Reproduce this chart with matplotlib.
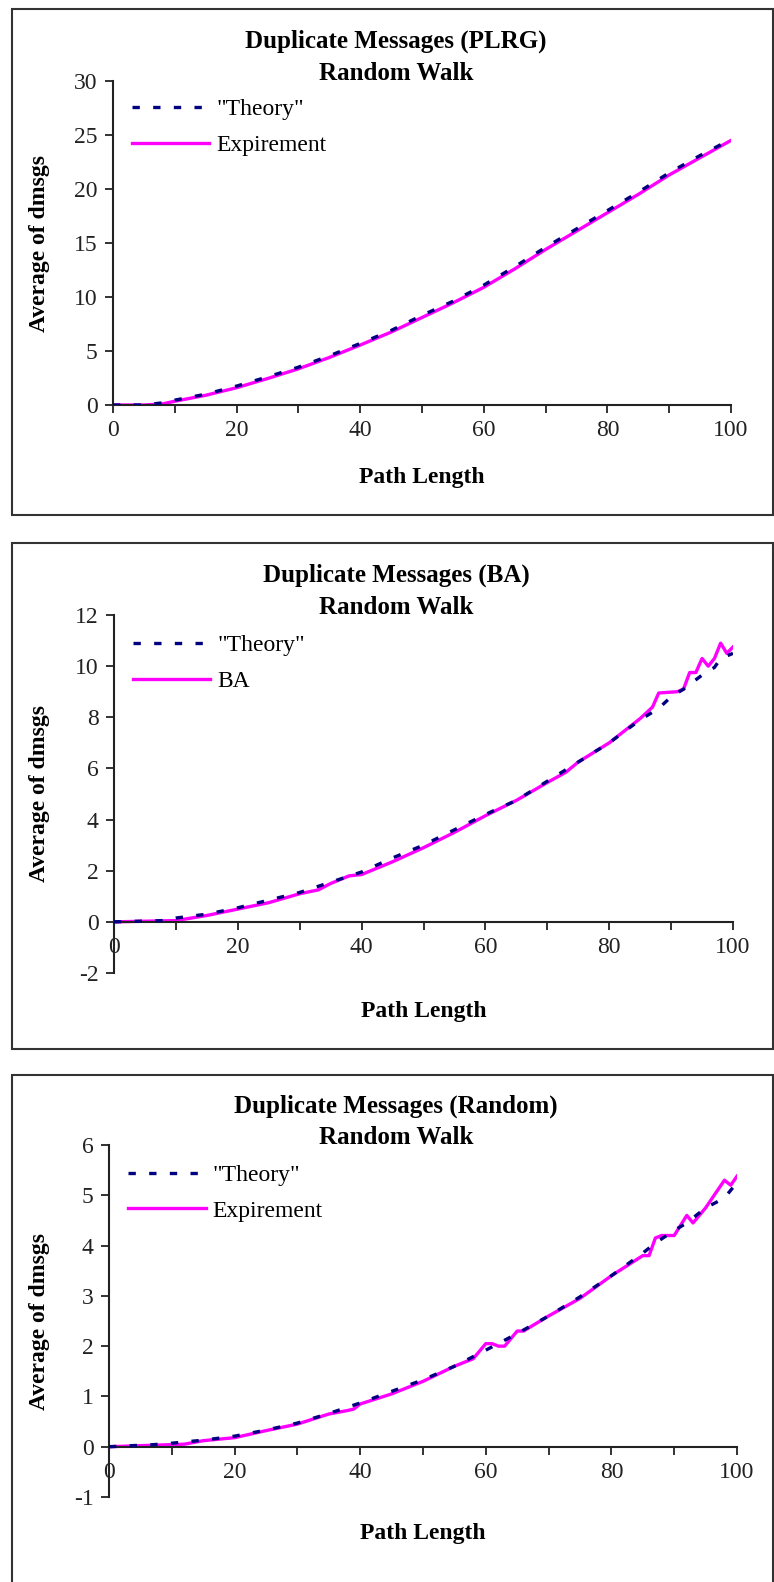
import matplotlib.pyplot as plt
from matplotlib.patches import Rectangle

plt.rcParams['font.family'] = ['Liberation Serif', 'DejaVu Serif']
plt.rcParams['axes.unicode_minus'] = False

# --- data ---
# PLRG
plrg_x = [0, 5, 8, 10, 15, 20, 25, 30, 35, 40, 45, 50, 55, 60, 65, 70, 75, 80, 85, 90, 95, 100]
plrg_theory = [0, 0, 0.2, 0.45, 1.0, 1.75, 2.6, 3.5, 4.55, 5.7, 6.9, 8.3, 9.6, 11.1,
               12.8, 14.6, 16.3, 18.0, 19.7, 21.5, 23.1, 24.6]
plrg_exp = [0, 0, 0.1, 0.35, 0.9, 1.6, 2.45, 3.35, 4.4, 5.55, 6.75, 8.1, 9.45, 10.9,
            12.6, 14.4, 16.1, 17.8, 19.5, 21.3, 22.9, 24.5]

# BA
ba_x_th = [0, 8, 10, 15, 20, 25, 30, 35, 40, 45, 50, 55, 60, 65, 70, 75, 80, 85, 88,
           90, 92, 95, 97, 98, 100]
ba_theory = [0, 0.05, 0.15, 0.3, 0.55, 0.85, 1.15, 1.55, 1.95, 2.5, 3.0, 3.6, 4.2, 4.75,
             5.5, 6.25, 7.0, 7.9, 8.35, 8.8, 9.1, 9.65, 9.95, 10.3, 10.5]
ba_x_ex = [0, 10, 15, 20, 25, 30, 33, 35, 38, 40, 45, 50, 55, 60, 65, 70, 73, 75, 80,
           85, 87, 88, 91, 92, 93, 94, 95, 96, 97, 98, 99, 100]
ba_exp = [0, 0.05, 0.25, 0.5, 0.75, 1.1, 1.25, 1.5, 1.8, 1.85, 2.35, 2.9, 3.5, 4.15, 4.75,
          5.45, 5.85, 6.25, 7.0, 7.95, 8.4, 8.95, 9.0, 9.1, 9.75, 9.75, 10.3, 10.0, 10.3,
          10.9, 10.5, 10.75]

# Random
rnd_x_th = [0, 7, 10, 15, 20, 25, 30, 35, 40, 45, 50, 55, 60, 65, 70, 75, 80, 85, 87,
            90, 92, 95, 97, 98, 100]
rnd_theory = [0, 0.04, 0.07, 0.13, 0.21, 0.33, 0.47, 0.66, 0.87, 1.1, 1.33, 1.6, 1.92,
              2.25, 2.6, 2.98, 3.4, 3.85, 4.05, 4.3, 4.45, 4.75, 4.88, 4.95, 5.25]
rnd_x_ex = [0, 12, 15, 20, 25, 30, 35, 38, 39, 40, 45, 48, 50, 55, 58, 60, 61, 62, 63,
            65, 66, 70, 75, 80, 85, 86, 87, 88, 90, 92, 93, 95, 98, 99, 100]
rnd_exp = [0, 0.05, 0.12, 0.18, 0.32, 0.45, 0.65, 0.72, 0.75, 0.85, 1.05, 1.2, 1.3, 1.6,
           1.75, 2.05, 2.05, 2.0, 2.0, 2.3, 2.3, 2.6, 2.95, 3.4, 3.8, 3.8, 4.15, 4.2, 4.2,
           4.6, 4.45, 4.75, 5.3, 5.2, 5.38]

panels = [
    dict(title='Duplicate Messages (PLRG)', exp_label='Expirement',
         xt=plrg_x, yt=plrg_theory, xe=plrg_x, ye=plrg_exp,
         ylim=(0, 30), ystep=5, box=(12, 9, 773, 515),
         axpx=(113, 81, 731, 405), t1=41, t2=73, xl=478),
    dict(title='Duplicate Messages (BA)', exp_label='BA',
         xt=ba_x_th, yt=ba_theory, xe=ba_x_ex, ye=ba_exp,
         ylim=(-2, 12), ystep=2, box=(12, 543, 773, 1049),
         axpx=(114, 615, 733, 973), t1=575, t2=608, xl=1012),
    dict(title='Duplicate Messages (Random)', exp_label='Expirement',
         xt=rnd_x_th, yt=rnd_theory, xe=rnd_x_ex, ye=rnd_exp,
         ylim=(-1, 6), ystep=1, box=(12, 1075, 773, 1600),
         axpx=(109, 1145, 737, 1497), t1=1106, t2=1138, xl=1533),
]

W, H = 774, 1582
fig = plt.figure(figsize=(W / 100, H / 100), dpi=100)
fs = 17

for p in panels:
    x0, y0, x1, y1 = p['box']
    fig.patches.append(Rectangle((x0 / W, 1 - y1 / H), (x1 - x0) / W, (y1 - y0) / H,
                                 transform=fig.transFigure, fill=False,
                                 edgecolor='#333333', lw=1.5))
    l, t, r, b = p['axpx']
    ax = fig.add_axes([l / W, 1 - b / H, (r - l) / W, (b - t) / H])
    ax.plot(p['xe'], p['ye'], color='#FF00FF', lw=2.4, label=p['exp_label'], zorder=2)
    ax.plot(p['xt'], p['yt'], color='#000080', lw=2.4, dashes=(2.2, 4),
            label='"Theory"', zorder=3)
    ax.set_xlim(0, 100)
    ax.set_ylim(*p['ylim'])
    ax.set_xticks(range(0, 101, 10))
    ax.set_xticklabels([str(v) if v % 20 == 0 else '' for v in range(0, 101, 10)])
    lo, hi = p['ylim']
    ax.set_yticks(range(lo, hi + 1, p['ystep']))
    for s in ['top', 'right']:
        ax.spines[s].set_visible(False)
    ax.spines['bottom'].set_position(('data', 0))
    for s in ['left', 'bottom']:
        ax.spines[s].set_linewidth(1.5)
        ax.spines[s].set_color('#222222')
    ax.tick_params(axis='both', direction='out', length=6, width=1.3,
                   labelsize=fs, colors='#222222', pad=5)
    ax.set_ylabel('Average of dmsgs', fontsize=fs, fontweight='bold')
    ax.yaxis.set_label_coords((50 - l) / (r - l), 0.5)
    h, lab = ax.get_legend_handles_labels()
    ax.legend(h[::-1], lab[::-1], loc='upper left', frameon=False, fontsize=fs,
              bbox_to_anchor=(0.03, 0.945), borderaxespad=0, borderpad=0,
              handlelength=3.3, handletextpad=0.3, labelspacing=0.6)
    fig.text(396 / W, 1 - p['t1'] / H, p['title'], ha='center', va='center',
             fontsize=18, fontweight='bold')
    fig.text(396 / W, 1 - p['t2'] / H, 'Random Walk', ha='center', va='center',
             fontsize=18, fontweight='bold')
    fig.text((l + r) / 2 / W, 1 - p['xl'] / H, 'Path Length', ha='center', va='center',
             fontsize=fs, fontweight='bold')

fig.savefig('out.png', dpi=100)
